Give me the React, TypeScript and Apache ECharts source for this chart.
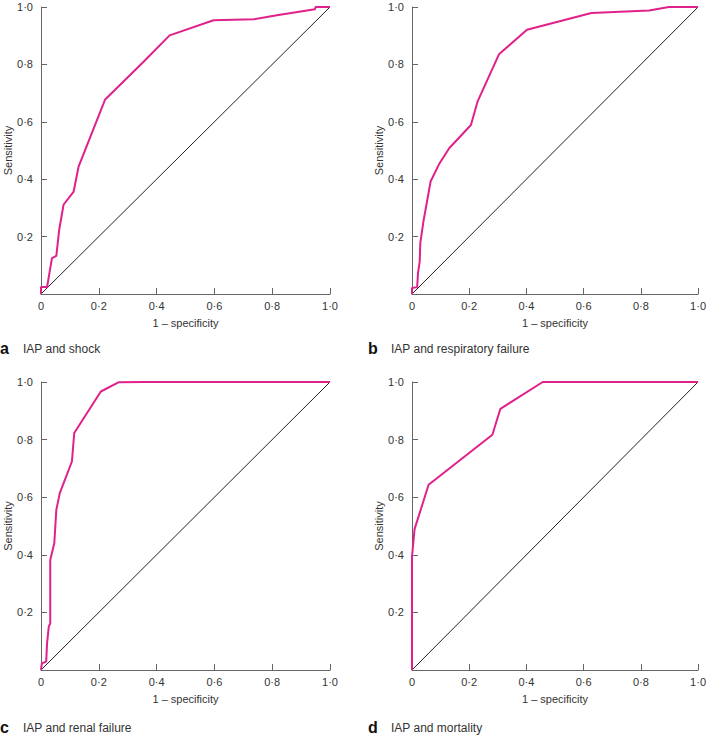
import React, { useEffect, useRef } from "react";
import * as echarts from "echarts";

// ROC curves: [1 - specificity, sensitivity]
const shockX = [0, 0, 0.021, 0.038, 0.053, 0.063, 0.078, 0.113, 0.13, 0.222, 0.355, 0.445, 0.597, 0.735, 0.816, 0.948, 0.95, 1];
const shockY = [0, 0.024, 0.024, 0.125, 0.133, 0.224, 0.311, 0.357, 0.444, 0.678, 0.809, 0.901, 0.954, 0.957, 0.971, 0.992, 1, 1];

const respX = [0, 0, 0.018, 0.021, 0.027, 0.029, 0.04, 0.065, 0.096, 0.13, 0.206, 0.229, 0.304, 0.402, 0.627, 0.829, 0.898, 1];
const respY = [0, 0.021, 0.024, 0.073, 0.114, 0.177, 0.253, 0.392, 0.455, 0.508, 0.589, 0.67, 0.835, 0.921, 0.979, 0.988, 1, 1];

const renalX = [0, 0.003, 0.018, 0.021, 0.027, 0.032, 0.032, 0.046, 0.053, 0.065, 0.107, 0.115, 0.207, 0.268, 0.355, 1];
const renalY = [0, 0.023, 0.029, 0.093, 0.151, 0.162, 0.382, 0.44, 0.556, 0.614, 0.724, 0.823, 0.967, 0.999, 1, 1];

const mortX = [0, 0, 0.009, 0.058, 0.281, 0.309, 0.457, 1];
const mortY = [0, 0.394, 0.489, 0.643, 0.817, 0.907, 1, 1];

const panelLetters = ["a", "b", "c", "d"];
const panelTitles = ["IAP and shock", "IAP and respiratory failure", "IAP and renal failure", "IAP and mortality"];
const xAxisName = "1 – specificity";
const yAxisName = "Sensitivity";

const curves = [
  [shockX, shockY],
  [respX, respY],
  [renalX, renalY],
  [mortX, mortY],
];

const grids = [
  { left: 41, top: 7, width: 289, height: 287 },
  { left: 412, top: 7, width: 289, height: 287 },
  { left: 41, top: 382, width: 289, height: 288 },
  { left: 412, top: 382, width: 289, height: 288 },
];

const captionPos = [
  { lx: 0, tx: 23, y: 350 },
  { lx: 368, tx: 391, y: 350 },
  { lx: 0, tx: 23, y: 729 },
  { lx: 368, tx: 391, y: 729 },
];

const FONT = "'Liberation Sans', Arial, sans-serif";
const CURVE = "#e0218a";

const fmt = (v: number) => (v === 0 ? "0" : v.toFixed(1).replace(".", "·"));

export default function App() {
  const ref = useRef<HTMLDivElement>(null);
  useEffect(() => {
    document.body.style.margin = "0";
    const chart = echarts.init(ref.current!, undefined, { renderer: "svg" });
    const axisCommon = {
      type: "value" as const,
      min: 0,
      max: 1,
      interval: 0.2,
      axisLine: { show: true, lineStyle: { color: "#666", width: 1 } },
      axisTick: { show: true, inside: true, length: 6, lineStyle: { color: "#666" } },
      splitLine: { show: false },
      nameTextStyle: { fontFamily: FONT, fontSize: 11, color: "#333" },
    };
    const xAxis = grids.map((_, i) => ({
      ...axisCommon,
      gridIndex: i,
      name: xAxisName,
      nameLocation: "middle" as const,
      nameGap: 23,
      axisLabel: { fontFamily: FONT, fontSize: 11, color: "#333", margin: 6, formatter: fmt },
    }));
    const yAxis = grids.map((_, i) => ({
      ...axisCommon,
      gridIndex: i,
      name: yAxisName,
      nameLocation: "middle" as const,
      nameGap: 28,
      nameRotate: 90,
      axisLabel: {
        fontFamily: FONT,
        fontSize: 11,
        color: "#333",
        margin: 8,
        formatter: (v: number) => (v === 0 ? "" : fmt(v)),
      },
    }));
    const series: any[] = [];
    curves.forEach(([xs, ys], i) => {
      series.push({
        type: "line",
        xAxisIndex: i,
        yAxisIndex: i,
        data: [
          [0, 0],
          [1, 1],
        ],
        symbol: "none",
        lineStyle: { color: "#222", width: 1 },
        silent: true,
        z: 2,
      });
      series.push({
        type: "line",
        xAxisIndex: i,
        yAxisIndex: i,
        data: xs.map((x, k) => [x, ys[k]]),
        symbol: "none",
        lineStyle: { color: CURVE, width: 2 },
        silent: true,
        z: 3,
      });
    });
    const graphic: any[] = [];
    captionPos.forEach((p, i) => {
      graphic.push({
        type: "text",
        left: p.lx,
        top: p.y - 10,
        style: {
          text: panelLetters[i],
          font: `bold 16px ${FONT}`,
          fill: "#111",
        },
      });
      graphic.push({
        type: "text",
        left: p.tx,
        top: p.y - 7,
        style: {
          text: panelTitles[i],
          font: `12px ${FONT}`,
          fill: "#333",
        },
      });
    });
    chart.setOption({
      animation: false,
      backgroundColor: "#fff",
      grid: grids.map((g) => ({ ...g, containLabel: false })),
      xAxis,
      yAxis,
      series,
      graphic,
    });
    return () => chart.dispose();
  }, []);
  return <div ref={ref} style={{ width: 709, height: 737 }} />;
}
